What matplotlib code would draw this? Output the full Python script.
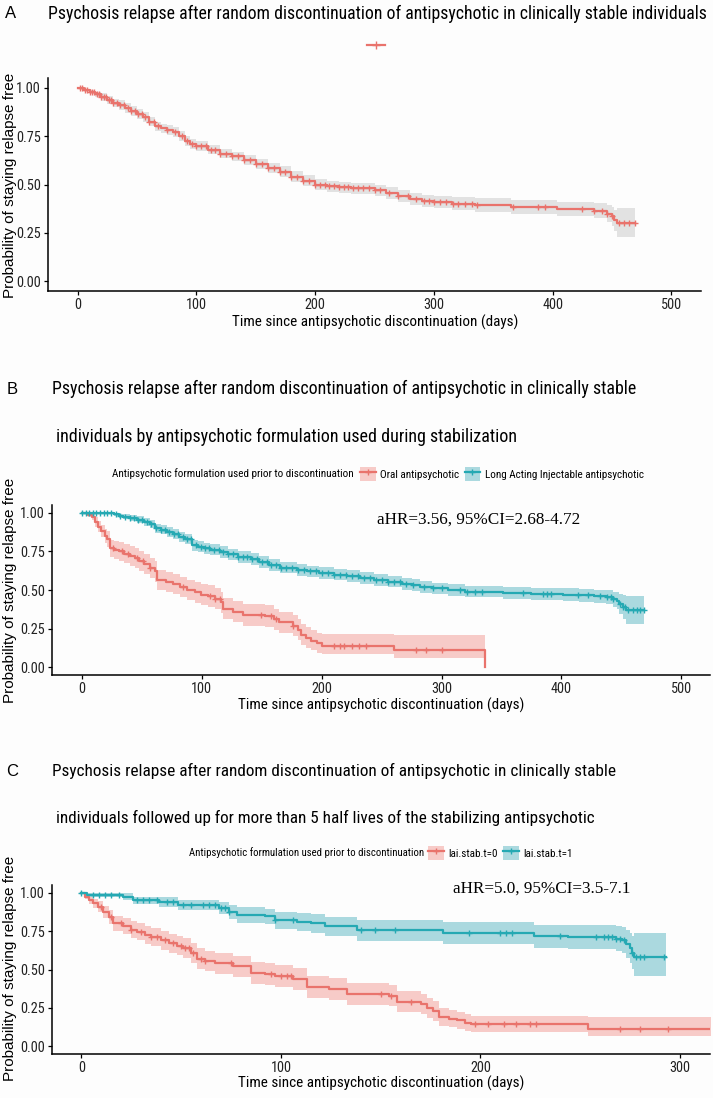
import numpy as np
import matplotlib
matplotlib.use("Agg")
import matplotlib.pyplot as plt
from matplotlib import font_manager
from matplotlib.lines import Line2D
from matplotlib.patches import Patch

# pick a narrow sans if one is installed, otherwise plain Liberation Sans
installed = {f.name for f in font_manager.fontManager.ttflist}
NARROW = 'Liberation Sans'
for cand in ['Liberation Sans Narrow', 'Roboto Condensed', 'Open Sans Condensed', 'Arial Narrow']:
    if cand in installed:
        NARROW = cand
        break
plt.rcParams['font.family'] = [NARROW, 'DejaVu Sans']

RED = '#E9736C'
RED_FILL = '#F7CBC8'
BLUE = '#25A9B3'
BLUE_FILL = '#ABD9DF'
GRAY_FILL = '#E2E2E2'

# ---- panel A: all individuals ----
t_all = [0, 5, 10, 15, 20, 25, 30, 35, 40, 45, 50, 55, 60, 65, 70, 75, 80, 85, 90, 95,
         100, 110, 120, 130, 140, 150, 160, 170, 180, 190, 200, 210, 220, 230, 240, 250,
         260, 270, 280, 290, 300, 315, 335, 365, 404, 435, 446, 450, 452, 454]
s_all = [1.00, 0.99, 0.98, 0.965, 0.95, 0.935, 0.92, 0.91, 0.895, 0.88, 0.865, 0.85, 0.825,
         0.80, 0.79, 0.78, 0.77, 0.75, 0.725, 0.71, 0.70, 0.68, 0.66, 0.645, 0.625, 0.605,
         0.585, 0.565, 0.54, 0.52, 0.50, 0.49, 0.485, 0.48, 0.48, 0.47, 0.455, 0.44, 0.425,
         0.415, 0.41, 0.40, 0.395, 0.385, 0.375, 0.365, 0.35, 0.335, 0.315, 0.30]
lo_all = [1.00, 0.985, 0.97, 0.95, 0.93, 0.915, 0.90, 0.885, 0.87, 0.855, 0.84, 0.825, 0.80,
          0.775, 0.765, 0.755, 0.745, 0.725, 0.70, 0.685, 0.675, 0.655, 0.635, 0.62, 0.60,
          0.578, 0.558, 0.537, 0.512, 0.49, 0.47, 0.46, 0.455, 0.45, 0.45, 0.44, 0.425,
          0.41, 0.393, 0.382, 0.377, 0.366, 0.36, 0.35, 0.338, 0.325, 0.305, 0.285, 0.26, 0.23]
hi_all = [1.00, 0.995, 0.99, 0.98, 0.97, 0.955, 0.94, 0.935, 0.92, 0.905, 0.89, 0.875, 0.85,
          0.825, 0.815, 0.805, 0.795, 0.775, 0.75, 0.735, 0.725, 0.705, 0.685, 0.67, 0.65,
          0.632, 0.612, 0.593, 0.568, 0.55, 0.53, 0.52, 0.515, 0.51, 0.51, 0.50, 0.485,
          0.47, 0.457, 0.448, 0.443, 0.434, 0.43, 0.42, 0.412, 0.405, 0.395, 0.385, 0.37, 0.38]
end_all = 469
cens_all = [2, 4, 6, 8, 10, 12, 14, 16, 18, 20, 22, 24, 26, 28, 30, 33, 36, 39, 42, 45, 48,
            51, 54, 57, 60, 64, 68, 75, 82, 88, 92, 96, 100, 104, 108, 112, 116, 120, 125,
            130, 135, 140, 145, 150, 155, 160, 165, 170, 175, 180, 185, 190, 195, 200, 204,
            208, 212, 216, 220, 224, 228, 232, 236, 240, 245, 250, 255, 262, 270, 278, 285,
            292, 296, 300, 305, 310, 316, 320, 326, 332, 336, 367, 388, 394, 425, 435, 442,
            446, 450, 456, 460, 464, 469]

# ---- panel B: oral vs long acting injectable ----
t_oral = [0, 5, 8, 11, 13, 16, 19, 21, 23, 27, 31, 35, 40, 44, 48, 52, 57, 61, 63, 70,
          76, 82, 88, 94, 99, 105, 111, 116, 118, 126, 134, 153, 160, 164, 176, 180, 183,
          187, 191, 196, 200, 260, 336]
s_oral = [1.0, 0.985, 0.97, 0.94, 0.91, 0.88, 0.85, 0.83, 0.77, 0.76, 0.75, 0.735, 0.72,
          0.705, 0.69, 0.67, 0.645, 0.62, 0.565, 0.55, 0.54, 0.52, 0.50, 0.485, 0.47, 0.46,
          0.445, 0.42, 0.38, 0.36, 0.34, 0.33, 0.31, 0.29, 0.27, 0.24, 0.21, 0.19, 0.17,
          0.155, 0.14, 0.11, 0.0]
lo_oral = [1.0, 0.975, 0.95, 0.91, 0.875, 0.84, 0.805, 0.78, 0.715, 0.70, 0.69, 0.672,
           0.655, 0.64, 0.625, 0.605, 0.58, 0.555, 0.50, 0.485, 0.475, 0.455, 0.435, 0.418,
           0.40, 0.39, 0.375, 0.35, 0.31, 0.29, 0.27, 0.26, 0.24, 0.22, 0.20, 0.175, 0.145,
           0.125, 0.11, 0.095, 0.085, 0.06, 0.06]
hi_oral = [1.0, 0.995, 0.99, 0.97, 0.945, 0.92, 0.895, 0.88, 0.825, 0.82, 0.81, 0.798,
           0.785, 0.77, 0.755, 0.735, 0.71, 0.685, 0.63, 0.615, 0.605, 0.585, 0.565, 0.552,
           0.54, 0.53, 0.515, 0.49, 0.45, 0.43, 0.41, 0.40, 0.38, 0.36, 0.34, 0.31, 0.28,
           0.26, 0.24, 0.225, 0.215, 0.21, 0.21]
end_oral = 336
cens_oral = [26, 33, 38, 46, 51, 57, 84, 107, 111, 115, 149, 158, 162, 176, 210, 215, 219,
             225, 231, 237, 279, 287, 300]

t_lai = [0, 27, 31, 34, 40, 46, 52, 57, 61, 66, 71, 76, 81, 86, 92, 97, 102, 107, 115, 122,
         130, 141, 148, 156, 165, 179, 188, 198, 210, 221, 232, 244, 255, 267, 275, 282,
         292, 305, 320, 351, 375, 401, 415, 427, 437, 443, 446, 448, 451, 454]
s_lai = [1.0, 0.99, 0.98, 0.975, 0.965, 0.955, 0.94, 0.925, 0.90, 0.89, 0.875, 0.86, 0.845,
         0.83, 0.79, 0.78, 0.77, 0.76, 0.745, 0.73, 0.715, 0.70, 0.68, 0.66, 0.645, 0.63,
         0.62, 0.61, 0.60, 0.59, 0.58, 0.565, 0.555, 0.54, 0.53, 0.52, 0.51, 0.50, 0.49,
         0.48, 0.475, 0.47, 0.465, 0.46, 0.455, 0.44, 0.43, 0.41, 0.39, 0.37]
lo_lai = [1.0, 0.98, 0.965, 0.957, 0.945, 0.932, 0.915, 0.898, 0.872, 0.86, 0.845, 0.828,
          0.812, 0.796, 0.755, 0.745, 0.735, 0.724, 0.708, 0.693, 0.677, 0.662, 0.642,
          0.622, 0.607, 0.592, 0.582, 0.572, 0.562, 0.552, 0.542, 0.527, 0.517, 0.502,
          0.492, 0.482, 0.472, 0.462, 0.452, 0.442, 0.436, 0.43, 0.424, 0.418, 0.41, 0.39,
          0.375, 0.345, 0.315, 0.28]
hi_lai = [1.0, 1.0, 0.995, 0.993, 0.985, 0.978, 0.965, 0.952, 0.928, 0.92, 0.905, 0.892,
          0.878, 0.864, 0.825, 0.815, 0.805, 0.796, 0.782, 0.767, 0.753, 0.738, 0.718,
          0.698, 0.683, 0.668, 0.658, 0.648, 0.638, 0.628, 0.618, 0.603, 0.593, 0.578,
          0.568, 0.558, 0.548, 0.538, 0.528, 0.518, 0.514, 0.51, 0.506, 0.502, 0.50, 0.49,
          0.485, 0.475, 0.465, 0.46]
end_lai = 469
cens_lai = [0, 3, 6, 9, 12, 15, 18, 21, 24, 28, 32, 36, 40, 43, 47, 50, 54, 58, 62, 66, 69,
            73, 77, 80, 84, 88, 91, 95, 99, 103, 106, 110, 114, 118, 122, 126, 130, 134,
            138, 142, 146, 150, 154, 158, 162, 166, 170, 175, 180, 185, 190, 195, 200, 205,
            210, 215, 220, 225, 230, 235, 240, 245, 250, 255, 260, 265, 270, 276, 285, 293,
            300, 315, 321, 328, 334, 368, 385, 388, 391, 414, 422, 432, 438, 441, 443, 449,
            451, 453, 456, 460, 463, 466, 469]

# ---- panel C: followed up > 5 half lives ----
t_c0 = [0, 2, 4, 6, 8.5, 11, 14, 16, 21, 25, 28, 32, 35, 40, 44, 48, 51, 55, 58, 62, 67,
        76, 85, 92, 97, 106, 113, 124, 133, 154, 158, 170, 173, 176, 179, 184, 188, 192,
        195, 254]
s_c0 = [1.0, 0.975, 0.95, 0.93, 0.91, 0.875, 0.84, 0.80, 0.78, 0.76, 0.745, 0.725, 0.71,
        0.69, 0.67, 0.655, 0.64, 0.61, 0.57, 0.555, 0.54, 0.52, 0.48, 0.47, 0.455, 0.44,
        0.385, 0.375, 0.34, 0.33, 0.29, 0.275, 0.25, 0.23, 0.19, 0.18, 0.17, 0.155, 0.146,
        0.113]
lo_c0 = [1.0, 0.96, 0.925, 0.9, 0.875, 0.835, 0.795, 0.75, 0.728, 0.706, 0.69, 0.668, 0.652,
         0.63, 0.608, 0.592, 0.576, 0.545, 0.503, 0.487, 0.47, 0.45, 0.408, 0.398, 0.383,
         0.367, 0.313, 0.303, 0.27, 0.26, 0.222, 0.208, 0.185, 0.167, 0.132, 0.123, 0.115,
         0.102, 0.094, 0.065]
hi_c0 = [1.0, 0.99, 0.975, 0.96, 0.945, 0.915, 0.885, 0.85, 0.832, 0.814, 0.8, 0.782, 0.768,
         0.75, 0.732, 0.718, 0.704, 0.675, 0.637, 0.623, 0.61, 0.59, 0.552, 0.542, 0.527,
         0.513, 0.457, 0.447, 0.41, 0.40, 0.358, 0.342, 0.315, 0.293, 0.248, 0.237, 0.225,
         0.208, 0.198, 0.19]
end_c0 = 330
cens_c0 = [10, 15, 20, 25, 30, 35, 38, 42, 46, 50, 52, 54, 56, 60, 62, 75, 95, 100, 103,
           105, 150, 155, 165, 197, 204, 212, 218, 225, 228, 270, 280, 294]

t_c1 = [0, 3, 21, 26, 39, 48.5, 69, 74, 78, 92, 97, 108, 115, 122, 138, 181, 227, 244, 268,
        271, 273, 275, 276, 277]
s_c1 = [1.0, 0.985, 0.975, 0.95, 0.94, 0.92, 0.90, 0.875, 0.855, 0.845, 0.82, 0.81, 0.80,
        0.78, 0.755, 0.735, 0.715, 0.71, 0.70, 0.69, 0.665, 0.64, 0.61, 0.58]
lo_c1 = [1.0, 0.97, 0.955, 0.925, 0.91, 0.885, 0.86, 0.83, 0.805, 0.793, 0.765, 0.753, 0.74,
         0.718, 0.685, 0.663, 0.64, 0.632, 0.618, 0.605, 0.575, 0.545, 0.505, 0.455]
hi_c1 = [1.0, 1.0, 0.995, 0.975, 0.97, 0.955, 0.94, 0.92, 0.905, 0.897, 0.875, 0.867, 0.86,
         0.842, 0.825, 0.807, 0.79, 0.788, 0.782, 0.775, 0.755, 0.735, 0.72, 0.735]
end_c1 = 293
cens_c1 = [0, 6, 9, 12, 15, 19, 28, 31, 34, 38, 43, 46, 51, 55, 61, 64, 67, 70, 72, 74, 97,
           106, 140, 147, 157, 194, 210, 213, 216, 240, 258, 262, 264, 266, 268, 270, 272,
           276, 278, 280, 282, 292]

legend_title = 'Antipsychotic formulation used prior to discontinuation'
xlab = 'Time since antipsychotic discontinuation (days)'
ylab = 'Probability of staying relapse free'

W, H = 713, 1098
fig = plt.figure(figsize=(W / 100, H / 100), dpi=100)
fig.patch.set_facecolor('#FDFDFD')
renderer = fig.canvas.get_renderer()


def fx(x):
    return x / W


def fy(y):
    return 1 - y / H


def fit_text(x, y, s, width, **kw):
    # place text and scale its size so it spans the given pixel width
    t = fig.text(fx(x), fy(y), s, fontsize=10, va='center', **kw)
    w = t.get_window_extent(renderer=renderer).width
    t.set_fontsize(10 * width / w)
    return t


def make_ax(left, right, top, bottom, xlim, xticks):
    ax = fig.add_axes([fx(left), fy(bottom), fx(right - left), (bottom - top) / H])
    ax.set_facecolor('none')
    ax.set_xlim(*xlim)
    ax.set_ylim(-0.05, 1.05)
    ax.set_xticks(xticks)
    ax.set_yticks([0, 0.25, 0.5, 0.75, 1.0])
    ax.set_yticklabels(['0.00', '0.25', '0.50', '0.75', '1.00'])
    for side in ['top', 'right']:
        ax.spines[side].set_visible(False)
    for side in ['left', 'bottom']:
        ax.spines[side].set_linewidth(1.1)
    ax.tick_params(length=3, width=0.9, pad=2, labelsize=10.3, labelcolor='#222222')
    return ax


def km(ax, t, s, lo, hi, t_end, cens, color, fill):
    t = np.array(t, float)
    s = np.array(s, float)
    lo = np.array(lo, float)
    hi = np.array(hi, float)
    if t_end > t[-1]:
        t = np.append(t, t_end)
        s = np.append(s, s[-1])
        lo = np.append(lo, lo[-1])
        hi = np.append(hi, hi[-1])
    ax.fill_between(t, lo, hi, step='post', color=fill, lw=0)
    ax.step(t, s, where='post', color=color, lw=1.6)
    c = np.array(cens, float)
    idx = np.searchsorted(t, c, side='right') - 1
    ax.plot(c, s[idx], ls='none', marker='+', ms=5, mew=1.0, color=color)


def key(color, fill):
    return (Patch(facecolor=fill, edgecolor='none'),
            Line2D([], [], color=color, lw=1.6, marker='+', ms=5, mew=1.0))


def panel_legend(title_right, keys_left, y, labels, title_width):
    fit_text(title_right, y, legend_title, title_width, ha='right')
    fig.legend([key(RED, RED_FILL), key(BLUE, BLUE_FILL)], labels,
               loc='center left', bbox_to_anchor=(fx(keys_left), fy(y)), ncol=2,
               frameon=False, fontsize=8, handlelength=1.4, handleheight=1.5,
               handletextpad=0.4, columnspacing=0.5, borderpad=0, borderaxespad=0)


# ---- A ----
fig.text(fx(5), fy(14), 'A', fontsize=12, va='center', ha='left', family='Liberation Sans')
fit_text(48, 14, 'Psychosis relapse after random discontinuation of antipsychotic in clinically stable individuals',
         657, ha='left')
axA = make_ax(48, 701, 78, 291, (-25, 525), [0, 100, 200, 300, 400, 500])
km(axA, t_all, s_all, lo_all, hi_all, end_all, cens_all, RED, GRAY_FILL)
fig.legend([Line2D([], [], color=RED, lw=1.6, marker='+', ms=6, mew=1.0)], [''],
           loc='center', bbox_to_anchor=(fx(376), fy(46)), frameon=False,
           handlelength=1.3, handletextpad=0, borderpad=0)
fit_text(375, 322, xlab, 283, ha='center')
fig.text(fx(10), fy(185), ylab, fontsize=11, rotation=90, ha='center', va='center',
         family='Liberation Sans')

# ---- B ----
fig.text(fx(7), fy(389), 'B', fontsize=12, va='center', ha='left', family='Liberation Sans')
fit_text(52, 389, 'Psychosis relapse after random discontinuation of antipsychotic in clinically stable',
         582, ha='left')
fit_text(56, 437, 'individuals by antipsychotic formulation used during stabilization', 458, ha='left')
axB = make_ax(52, 710, 505, 675, (-25, 524), [0, 100, 200, 300, 400, 500])
km(axB, t_oral, s_oral, lo_oral, hi_oral, end_oral, cens_oral, RED, RED_FILL)
km(axB, t_lai, s_lai, lo_lai, hi_lai, end_lai, cens_lai, BLUE, BLUE_FILL)
axB.text(0.649, 0.912, 'aHR=3.56, 95%CI=2.68-4.72', transform=axB.transAxes, fontsize=12.3,
         family='Liberation Serif', ha='center', va='center')
panel_legend(354, 360, 474, ['Oral antipsychotic', 'Long Acting Injectable antipsychotic'], 241)
fit_text(381, 705, xlab, 283, ha='center')
fig.text(fx(10), fy(590), ylab, fontsize=11, rotation=90, ha='center', va='center',
         family='Liberation Sans')

# ---- C ----
fig.text(fx(6), fy(771), 'C', fontsize=12, va='center', ha='left', family='Liberation Sans')
fit_text(52, 771, 'Psychosis relapse after random discontinuation of antipsychotic in clinically stable',
         559, ha='left')
fit_text(56, 818, 'individuals followed up for more than 5 half lives of the stabilizing antipsychotic',
         537, ha='left')
axC = make_ax(52, 710, 885, 1054, (-14.7, 315), [0, 100, 200, 300])
km(axC, t_c0, s_c0, lo_c0, hi_c0, end_c0, cens_c0, RED, RED_FILL)
km(axC, t_c1, s_c1, lo_c1, hi_c1, end_c1, cens_c1, BLUE, BLUE_FILL)
axC.text(0.745, 0.976, 'aHR=5.0, 95%CI=3.5-7.1', transform=axC.transAxes, fontsize=12.3,
         family='Liberation Serif', ha='center', va='center')
panel_legend(424, 428, 853, ['lai.stab.t=0', 'lai.stab.t=1'], 232)
fit_text(381, 1083, xlab, 283, ha='center')
fig.text(fx(10), fy(968), ylab, fontsize=11, rotation=90, ha='center', va='center',
         family='Liberation Sans')

fig.savefig('out.png', dpi=100, facecolor=fig.get_facecolor())
